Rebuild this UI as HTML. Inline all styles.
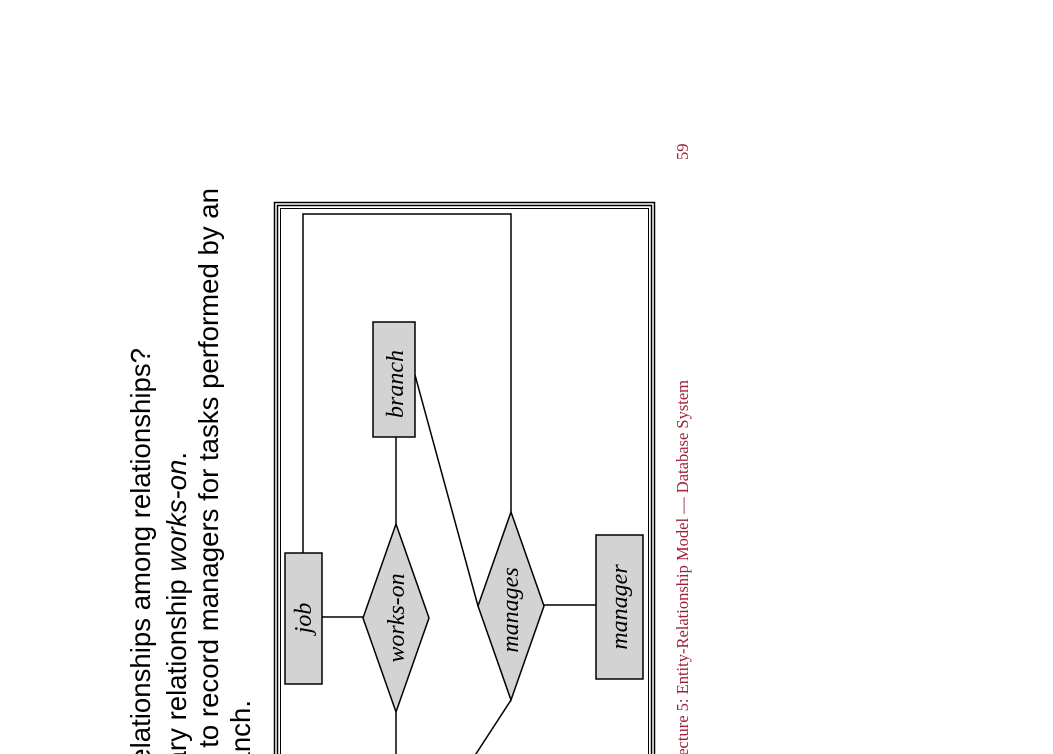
<!DOCTYPE html>
<html><head><style>html,body{margin:0;padding:0;background:#fff;overflow:hidden;width:1053px;height:754px}svg{display:block;overflow:hidden}</style></head>
<body>
<svg width="1053" height="754" viewBox="0 0 1053 754" xmlns="http://www.w3.org/2000/svg">
<g font-family="Liberation Sans, sans-serif" font-size="27.6" fill="#000">
<text transform="translate(150,348) rotate(-90)" text-anchor="end">Can we express relationships among relationships?</text>
<text transform="translate(186,452) rotate(-90)" text-anchor="end">Ternary relationship <tspan font-style="italic">works-on</tspan>.</text>
<text transform="translate(218,188) rotate(-90)" text-anchor="end">Suppose we want to record managers for tasks performed by an</text>
<text transform="translate(250,700) rotate(-90)" text-anchor="end">employee at a branch.</text>
</g>
<g fill="none" stroke="#000">
<rect x="274.5" y="202.5" width="380" height="600" stroke-width="1.5"/>
<rect x="277.5" y="205.5" width="374" height="594" stroke-width="1.5"/>
<rect x="280.5" y="208.5" width="368" height="588" stroke-width="1"/>
</g>
<g stroke="#000" stroke-width="1.5" fill="none">
<line x1="322" y1="617" x2="363" y2="617"/>
<line x1="396" y1="437" x2="396" y2="524"/>
<line x1="396" y1="712" x2="396" y2="760"/>
<polyline points="303,553 303,214 511,214 511,512"/>
<line x1="415" y1="375" x2="478" y2="606"/>
<line x1="511" y1="700" x2="472" y2="760"/>
<line x1="544" y1="605" x2="596" y2="605"/>
</g>
<g fill="#d3d3d3" stroke="#000" stroke-width="1.5">
<rect x="285" y="553" width="37" height="131"/>
<rect x="373" y="322" width="42" height="115"/>
<rect x="596" y="535" width="47" height="144"/>
<polygon points="396,524 429,618 396,712 363,618"/>
<polygon points="511,512 544,606 511,700 478,606"/>
</g>
<g font-family="Liberation Serif, serif" font-style="italic" font-size="24" fill="#000" text-anchor="middle">
<text transform="translate(311,618) rotate(-90)">job</text>
<text transform="translate(404,618) rotate(-90)">works-on</text>
<text transform="translate(403,384) rotate(-90)">branch</text>
<text transform="translate(518,610) rotate(-90)">manages</text>
<text transform="translate(627,607) rotate(-90)">manager</text>
</g>
<g font-family="Liberation Serif, serif" font-size="16.5" fill="#a0203a">
<text transform="translate(688,160) rotate(-90)">59</text>
<text transform="translate(688,380) rotate(-90)" text-anchor="end">Lecture 5: Entity-Relationship Model — Database System</text>
</g>
</svg>
</body></html>
